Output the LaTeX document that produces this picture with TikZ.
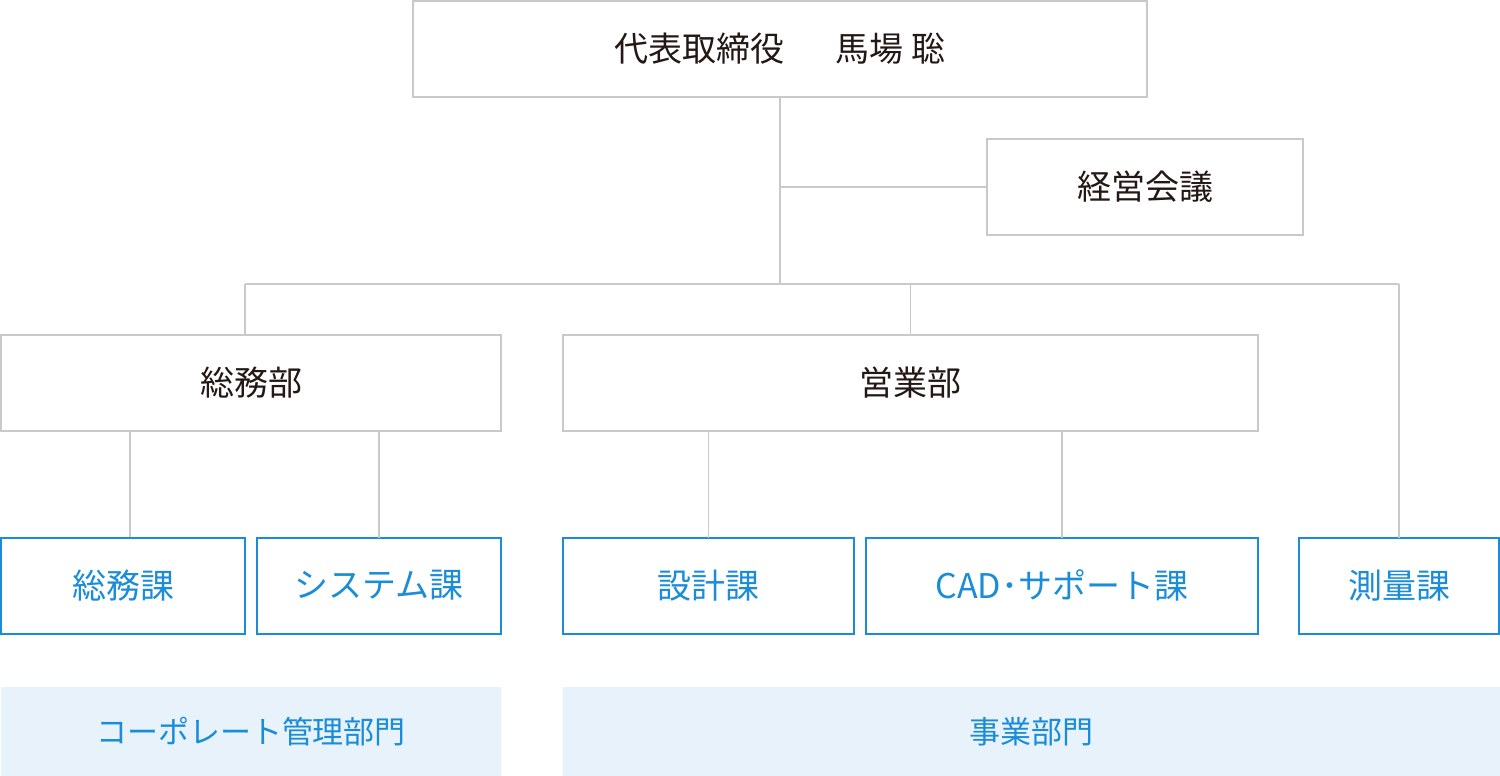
\documentclass[tikz,border=0pt]{standalone}
\usepackage{fontspec}
\newfontfamily\jp{Noto Sans CJK JP}
\definecolor{lgray}{HTML}{C9C9C9}
\definecolor{dtext}{HTML}{231815}
\definecolor{bblue}{HTML}{1A8CD8}
\definecolor{bfill}{HTML}{E7F2FB}
\tikzset{
  graybox/.style={draw=lgray, line width=0.7pt, fill=white, inner sep=0pt, outer sep=0pt, minimum height=48pt, font=\jp\fontsize{17}{19}\selectfont, text=dtext},
  bluebox/.style={draw=bblue, line width=1pt, fill=white, inner sep=0pt, outer sep=0pt, minimum height=48pt, font=\jp\fontsize{17}{19}\selectfont, text=bblue},
  band/.style={fill=bfill, draw=none, inner sep=0pt, outer sep=0pt, minimum height=44.5pt, font=\jp\fontsize{15.5}{17}\selectfont, text=bblue},
  conn/.style={draw=lgray, line width=0.6pt}
}
\begin{document}
\begin{tikzpicture}[x=0.5pt, y=-0.5pt]
\useasboundingbox (0,0) rectangle (1500,776);
% nodes
\node[graybox, minimum width=367pt] (ceo) at (780,49) {代表取締役\hspace{1.5em}馬場 聡};
\node[graybox, minimum width=158pt] (kaigi) at (1145,187) {経営会議};
\node[graybox, minimum width=250pt] (somubu) at (251,383) {総務部};
\node[graybox, minimum width=347.5pt] (eigyobu) at (910.5,383) {営業部};
\node[bluebox, minimum width=122pt] (somuka) at (123,585.5) {総務課};
\node[bluebox, minimum width=122pt] (system) at (379,585.5) {システム課};
\node[bluebox, minimum width=145.5pt] (sekkei) at (708.5,585.5) {設計課};
\node[bluebox, minimum width=196pt] (cad) at (1062,585.5) {CAD･サポート課};
\node[bluebox, minimum width=100pt] (sokuryo) at (1399,585.5) {測量課};
\node[band, minimum width=250pt] (corp) at (251,731.5) {コーポレート管理部門};
\node[band, minimum width=468.5pt] (jigyo) at (1031.5,731.5) {事業部門};
% coordinates
\coordinate (j1) at (780,187);
\coordinate (j2) at (780,284);
\coordinate (hl) at (245,284);
\coordinate (hm) at (910.5,284);
\coordinate (hr) at (1399,284);
% connectors
\draw[conn] (ceo.south) -- (j2);
\draw[conn] (j1) -- (kaigi.west);
\draw[conn] (hl) -- (hr);
\draw[conn] (hl) -- (hl |- somubu.north);
\draw[conn] (hm) -- (eigyobu.north);
\draw[conn] (hr) -- (sokuryo.north);
\draw[conn] (somubu.south -| 130,0) -- (130,537);
\draw[conn] (somubu.south -| system.north) -- (system.north);
\draw[conn] (eigyobu.south -| sekkei.north) -- (sekkei.north);
\draw[conn] (eigyobu.south -| cad.north) -- (cad.north);
\end{tikzpicture}
\end{document}
